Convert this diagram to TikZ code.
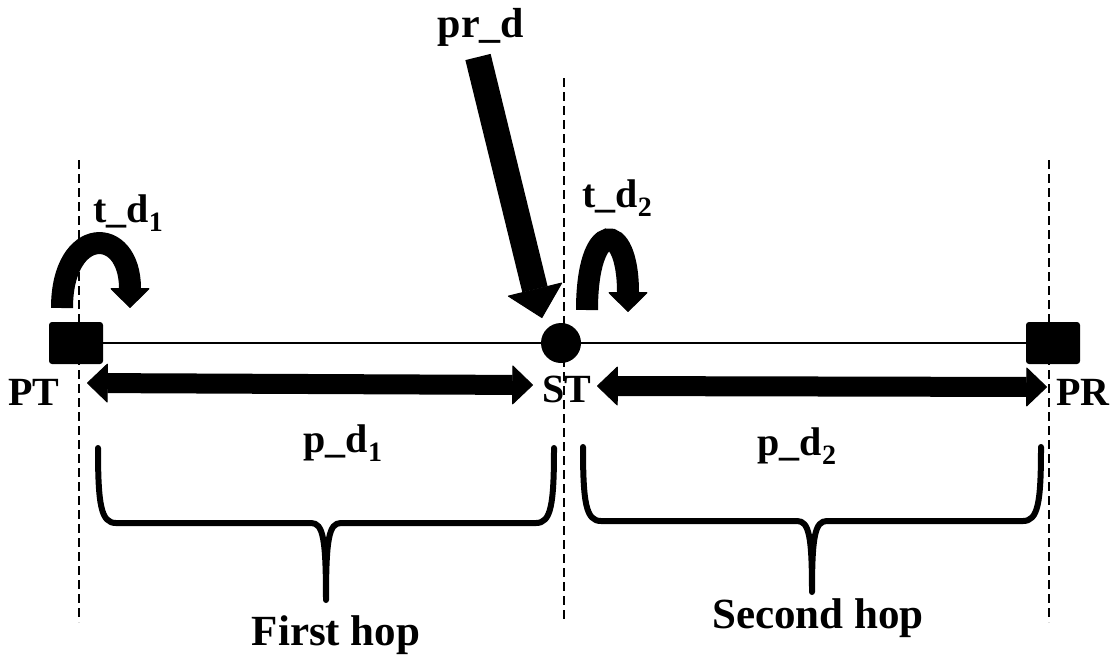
\documentclass[tikz,border=0pt]{standalone}
\usepackage{fontspec}
\setmainfont{Liberation Serif}
\usetikzlibrary{arrows.meta}
\tikzset{
  lbl/.style={font=\fontsize{40}{48}\selectfont\bfseries, inner sep=0pt},
  hoplbl/.style={font=\fontsize{43}{52}\selectfont\bfseries, inner sep=0pt},
  terminal/.style={fill=black, minimum width=54pt, minimum height=42pt, rounded corners=3pt, inner sep=0pt},
  relay/.style={circle, fill=black, minimum size=40pt, inner sep=0pt},
  guide/.style={dash pattern=on 9pt off 5pt, line width=1.5pt},
  link/.style={line width=1.5pt},
  dist/.style={line width=20pt, {Triangle[width=40pt,length=21pt,line width=1pt,round]}-{Triangle[width=40pt,length=21pt,line width=1pt,round]}},
  turnarrow/.style={line width=22pt, -{Triangle[width=40pt,length=20pt,line width=1pt,round]}},
  bigarrow/.style={line width=26pt, -{Triangle[width=57pt,length=30pt,line width=1pt,round]}},
  hopbrace/.style={line width=6pt, line cap=round, line join=round}
}
\begin{document}
\begin{tikzpicture}[x=1pt,y=-1pt]
\useasboundingbox (0,0) rectangle (1113,654);

% Guides
\foreach \gx/\gtop in {79/160,564/78,1049/160}
  \draw[guide] (\gx,\gtop) -- (\gx,622);

% Terminals and relay
\node[terminal] (pt) at (76,343) {};
\node[relay] (st) at (561,343) {};
\node[terminal] (pr) at (1053,343) {};
\draw[link] (pt) -- (st) -- (pr);

\node[lbl, anchor=base] (ptlbl) at (34,405) {PT};
\node[lbl, anchor=base] (stlbl) at (567,402) {ST};
\node[lbl, anchor=base] (prlbl) at (1083,405) {PR};

% Hop distances
\coordinate (d1a) at (87,383);
\coordinate (d1b) at (533,385);
\coordinate (d2a) at (597,386);
\coordinate (d2b) at (1047,387);
\draw[dist] (d1a) -- (d1b);
\draw[dist] (d2a) -- (d2b);
\node[lbl, anchor=base] (pd1) at (343,452) {p\_d\textsubscript{1}};
\node[lbl, anchor=base] (pd2) at (797,455) {p\_d\textsubscript{2}};

% Braces
\draw[hopbrace] (98,448) .. controls (98,505) and (101,523) .. (116,523) -- (311,523)
  .. controls (323,523) and (326,538) .. (326,600)
  .. controls (326,538) and (329,523) .. (341,523) -- (536,523)
  .. controls (551,523) and (554,505) .. (554,448);
\draw[hopbrace] (583,447) .. controls (583,503) and (586,521) .. (601,521) -- (797,521)
  .. controls (809,521) and (812,536) .. (812,592)
  .. controls (812,536) and (815,521) .. (827,521) -- (1023,521)
  .. controls (1038,521) and (1041,503) .. (1041,447);
\node[hoplbl, anchor=base] (hop1) at (336,645) {First hop};
\node[hoplbl, anchor=base] (hop2) at (818,628) {Second hop};

% Processing delay
\node[lbl, font=\fontsize{42}{50}\selectfont\bfseries, anchor=base] (prd) at (481,37) {pr\_d};
\coordinate (prtail) at (478,57);
\coordinate (prtip) at (542,318);
\draw[bigarrow] (prtail) -- (prtip);

% Turnaround delays
\node[lbl, anchor=base west] (td1) at (93,222) {t\_d\textsubscript{1}};
\coordinate (t1a) at (62,308);
\coordinate (t1b) at (130,308);
\draw[turnarrow] (t1a) .. controls (62,225) and (130,225) .. (t1b);
\node[lbl, anchor=base west] (td2) at (582,207) {t\_d\textsubscript{2}};
\coordinate (t2a) at (587,310);
\coordinate (t2b) at (628,312);
\draw[turnarrow] (t2a) .. controls (587,219) and (628,219) .. (t2b);
\end{tikzpicture}
\end{document}
